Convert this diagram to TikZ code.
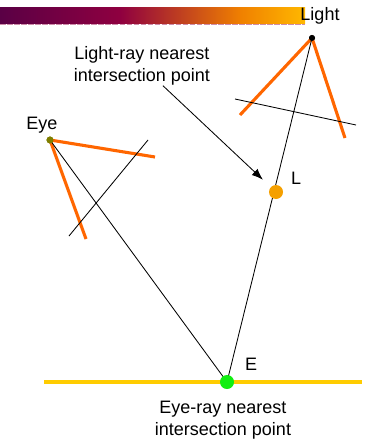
\documentclass[tikz,border=0pt]{standalone}
\usepackage{fontspec}
\setmainfont{Liberation Sans}
\usetikzlibrary{arrows.meta,positioning}

\definecolor{barpurple}{HTML}{5A0045}
\definecolor{barcrimson}{HTML}{8F0040}
\definecolor{barorange}{HTML}{F08000}
\definecolor{baryellow}{HTML}{FFB800}
\definecolor{conecol}{HTML}{FF6600}
\definecolor{lcol}{HTML}{F5A000}
\definecolor{ecol}{HTML}{11EE11}
\definecolor{eyecol}{HTML}{7F7F00}
\definecolor{floorcol}{HTML}{FFCC00}

\begin{document}
\begin{tikzpicture}[
    x=0.025cm, y=-0.025cm,
    lbl/.style={font=\fontsize{12.8}{15.6}\selectfont, align=center, inner sep=0pt},
    dot/.style={circle, inner sep=0pt, minimum size=#1},
    ray/.style={line width=0.6pt},
    cone/.style={draw=conecol, line width=2.2pt},
    arr/.style={-{Latex[length=8pt,width=6pt]}, line width=0.6pt}
]
\useasboundingbox (0,0) rectangle (368,439);

% title bar
\shade[left color=barpurple, right color=barcrimson] (0,8) rectangle (121,24);
\shade[left color=barcrimson, right color=barorange] (120,8) rectangle (241,24);
\shade[left color=barorange, right color=baryellow] (240,8) rectangle (305,24);
\draw[barcrimson!45, line width=0.6pt, dash pattern=on 4pt off 1pt] (0,24.5) -- (305,24.5);

% points
\node[dot=0.15cm, fill=black] (light) at (312,38) {};
\node[dot=0.175cm, fill=eyecol] (eye) at (50,140) {};
\node[dot=0.35cm] (lpt) at (276,192) {};
\node[dot=0.35cm] (ept) at (227,382) {};

% free ends
\coordinate (lc1) at (240,115);
\coordinate (lc2) at (345,138);
\coordinate (lp1) at (235,99);
\coordinate (lp2) at (356,125);
\coordinate (ec1) at (155,157);
\coordinate (ec2) at (86,239);
\coordinate (ep1) at (148,140);
\coordinate (ep2) at (69,236);
\coordinate (fl1) at (44,382);
\coordinate (fl2) at (362,382);

% floor
\draw[floorcol, line width=3pt] (fl1) -- (fl2);

% light frustum
\draw[cone] (lc1) -- (light.center) -- (lc2);
\draw[ray] (lp1) -- (lp2);

% eye frustum
\draw[cone] (eye.center) -- (ec1);
\draw[cone] (eye.center) -- (ec2);
\draw[ray] (ep1) -- (ep2);

% rays
\draw[ray] (eye.center) -- (ept.center);
\draw[ray] (light.center) -- (ept.center);

% dots on top
\fill[black] (light) circle (0.075cm);
\fill[eyecol] (eye) circle (0.0875cm);
\fill[lcol] (lpt) circle (0.175cm);
\fill[ecol] (ept) circle (0.175cm);

% labels
\node[lbl] (lighttxt) at (320,16) {Light};
\node[lbl] (eyetxt) at (42,125) {Eye};
\node[lbl] (ltxt) at (296,178) {L};
\node[lbl] (etxt) at (251,364) {E};
\node[lbl] (lrtext) at (142,66) {Light-ray nearest\\intersection point};
\node[lbl] (ertext) at (223,420) {Eye-ray nearest\\intersection point};

\draw[arr, shorten >=0.45cm] (lrtext) -- (lpt.center);
\end{tikzpicture}
\end{document}
